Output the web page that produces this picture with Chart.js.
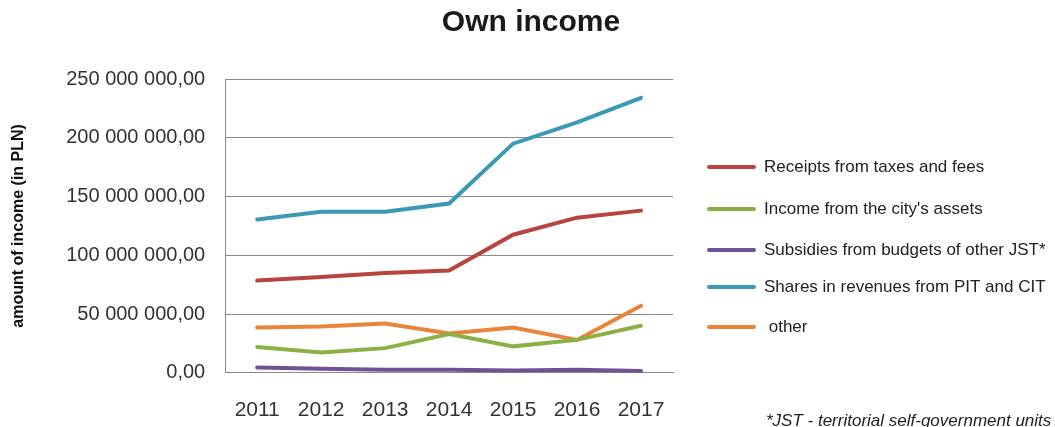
<!DOCTYPE html>
<html>
<head>
<meta charset="utf-8">
<script src="https://cdn.jsdelivr.net/npm/chart.js@4/dist/chart.umd.min.js"></script>
<style>
  html, body { margin: 0; padding: 0; background: #fff; }
  #wrap { width: 1055px; height: 427px; position: relative; }
</style>
</head>
<body>
<div id="wrap"><canvas id="income-chart" width="1055" height="427"></canvas></div>
<script>
const years = ["2011", "2012", "2013", "2014", "2015", "2016", "2017"];
const taxesAndFees = [78500000, 81500000, 85000000, 87000000, 117500000, 132000000, 138000000];
const cityAssets = [22000000, 17300000, 21000000, 33000000, 22500000, 28000000, 40000000];
const subsidiesJst = [4500000, 3500000, 2500000, 2500000, 2000000, 2500000, 1500000];
const pitCitShares = [130500000, 137000000, 137000000, 144000000, 195000000, 213000000, 234000000];
const otherIncome = [38500000, 39500000, 42000000, 33500000, 38500000, 28000000, 57000000];
const yTicks = [0, 50000000, 100000000, 150000000, 200000000, 250000000];

const seriesNames = [
    "Receipts from taxes and fees",
    "Income from the city's assets",
    "Subsidies from budgets of other JST*",
    "Shares in revenues from PIT and CIT",
    " other"
];
const seriesColors = ["#b8443f", "#8db046", "#6f5296", "#3a9ab5", "#e8853a"];

function formatPln(v) {
    const s = Math.round(v).toString().replace(/\B(?=(\d{3})+(?!\d))/g, " ");
    return s + ",00";
}

const sideTexts = {
    id: 'sideTexts',
    afterDraw(chart) {
        const ctx = chart.ctx;
        ctx.save();
        // title
        ctx.fillStyle = "#1a1a1a";
        ctx.font = "bold 30px 'Liberation Sans', Arial, sans-serif";
        ctx.textAlign = "center";
        ctx.textBaseline = "middle";
        ctx.fillText("Own income", 531, 23);

        // legend
        const rows = [167, 209, 250, 287, 327];
        ctx.font = "17px 'Liberation Sans', Arial, sans-serif";
        ctx.textAlign = "left";
        chart.data.datasets.forEach((ds, i) => {
            ctx.strokeStyle = ds.borderColor;
            ctx.lineWidth = 4;
            ctx.lineCap = "round";
            ctx.beginPath();
            ctx.moveTo(709, rows[i]);
            ctx.lineTo(754, rows[i]);
            ctx.stroke();
            ctx.fillStyle = "#222";
            ctx.fillText(ds.label, 764, rows[i]);
        });

        // footnote
        ctx.font = "italic 17px 'Liberation Sans', Arial, sans-serif";
        ctx.fillStyle = "#222";
        ctx.fillText("*JST - territorial self-government units", 766, 421);
        ctx.restore();
    }
};

const data = [taxesAndFees, cityAssets, subsidiesJst, pitCitShares, otherIncome];

new Chart(document.getElementById('income-chart'), {
    type: 'line',
    data: {
        labels: years,
        datasets: data.map((values, i) => ({
            label: seriesNames[i],
            data: values,
            borderColor: seriesColors[i],
            backgroundColor: seriesColors[i],
            borderWidth: 4,
            pointRadius: 0,
            tension: 0,
            borderCapStyle: 'round'
        }))
    },
    options: {
        responsive: false,
        animation: false,
        layout: {
            padding: { top: 79, left: 9, right: 382, bottom: -21 }
        },
        plugins: {
            legend: { display: false },
            title: { display: false },
            tooltip: { enabled: false }
        },
        scales: {
            x: {
                offset: true,
                grid: { display: false, drawTicks: false },
                border: { display: true, color: "#8a8a8a", width: 1 },
                ticks: {
                    color: "#333",
                    padding: 25,
                    font: { family: "'Liberation Sans', Arial, sans-serif", size: 21 }
                }
            },
            y: {
                min: 0,
                max: 250000000,
                afterBuildTicks(axis) {
                    axis.ticks = yTicks.map(v => ({ value: v }));
                },
                grid: { color: "#8a8a8a", lineWidth: 1, drawTicks: false },
                border: { display: true, color: "#8a8a8a", width: 1 },
                ticks: {
                    color: "#333",
                    padding: 20,
                    font: { family: "'Liberation Sans', Arial, sans-serif", size: 20 },
                    callback: v => formatPln(v)
                },
                title: {
                    display: true,
                    text: "amount of income (in PLN)",
                    color: "#111",
                    padding: { top: 0, bottom: 18 },
                    font: { family: "'Liberation Sans', Arial, sans-serif", size: 16, weight: 'bold' }
                }
            }
        }
    },
    plugins: [sideTexts]
});
</script>
</body>
</html>
